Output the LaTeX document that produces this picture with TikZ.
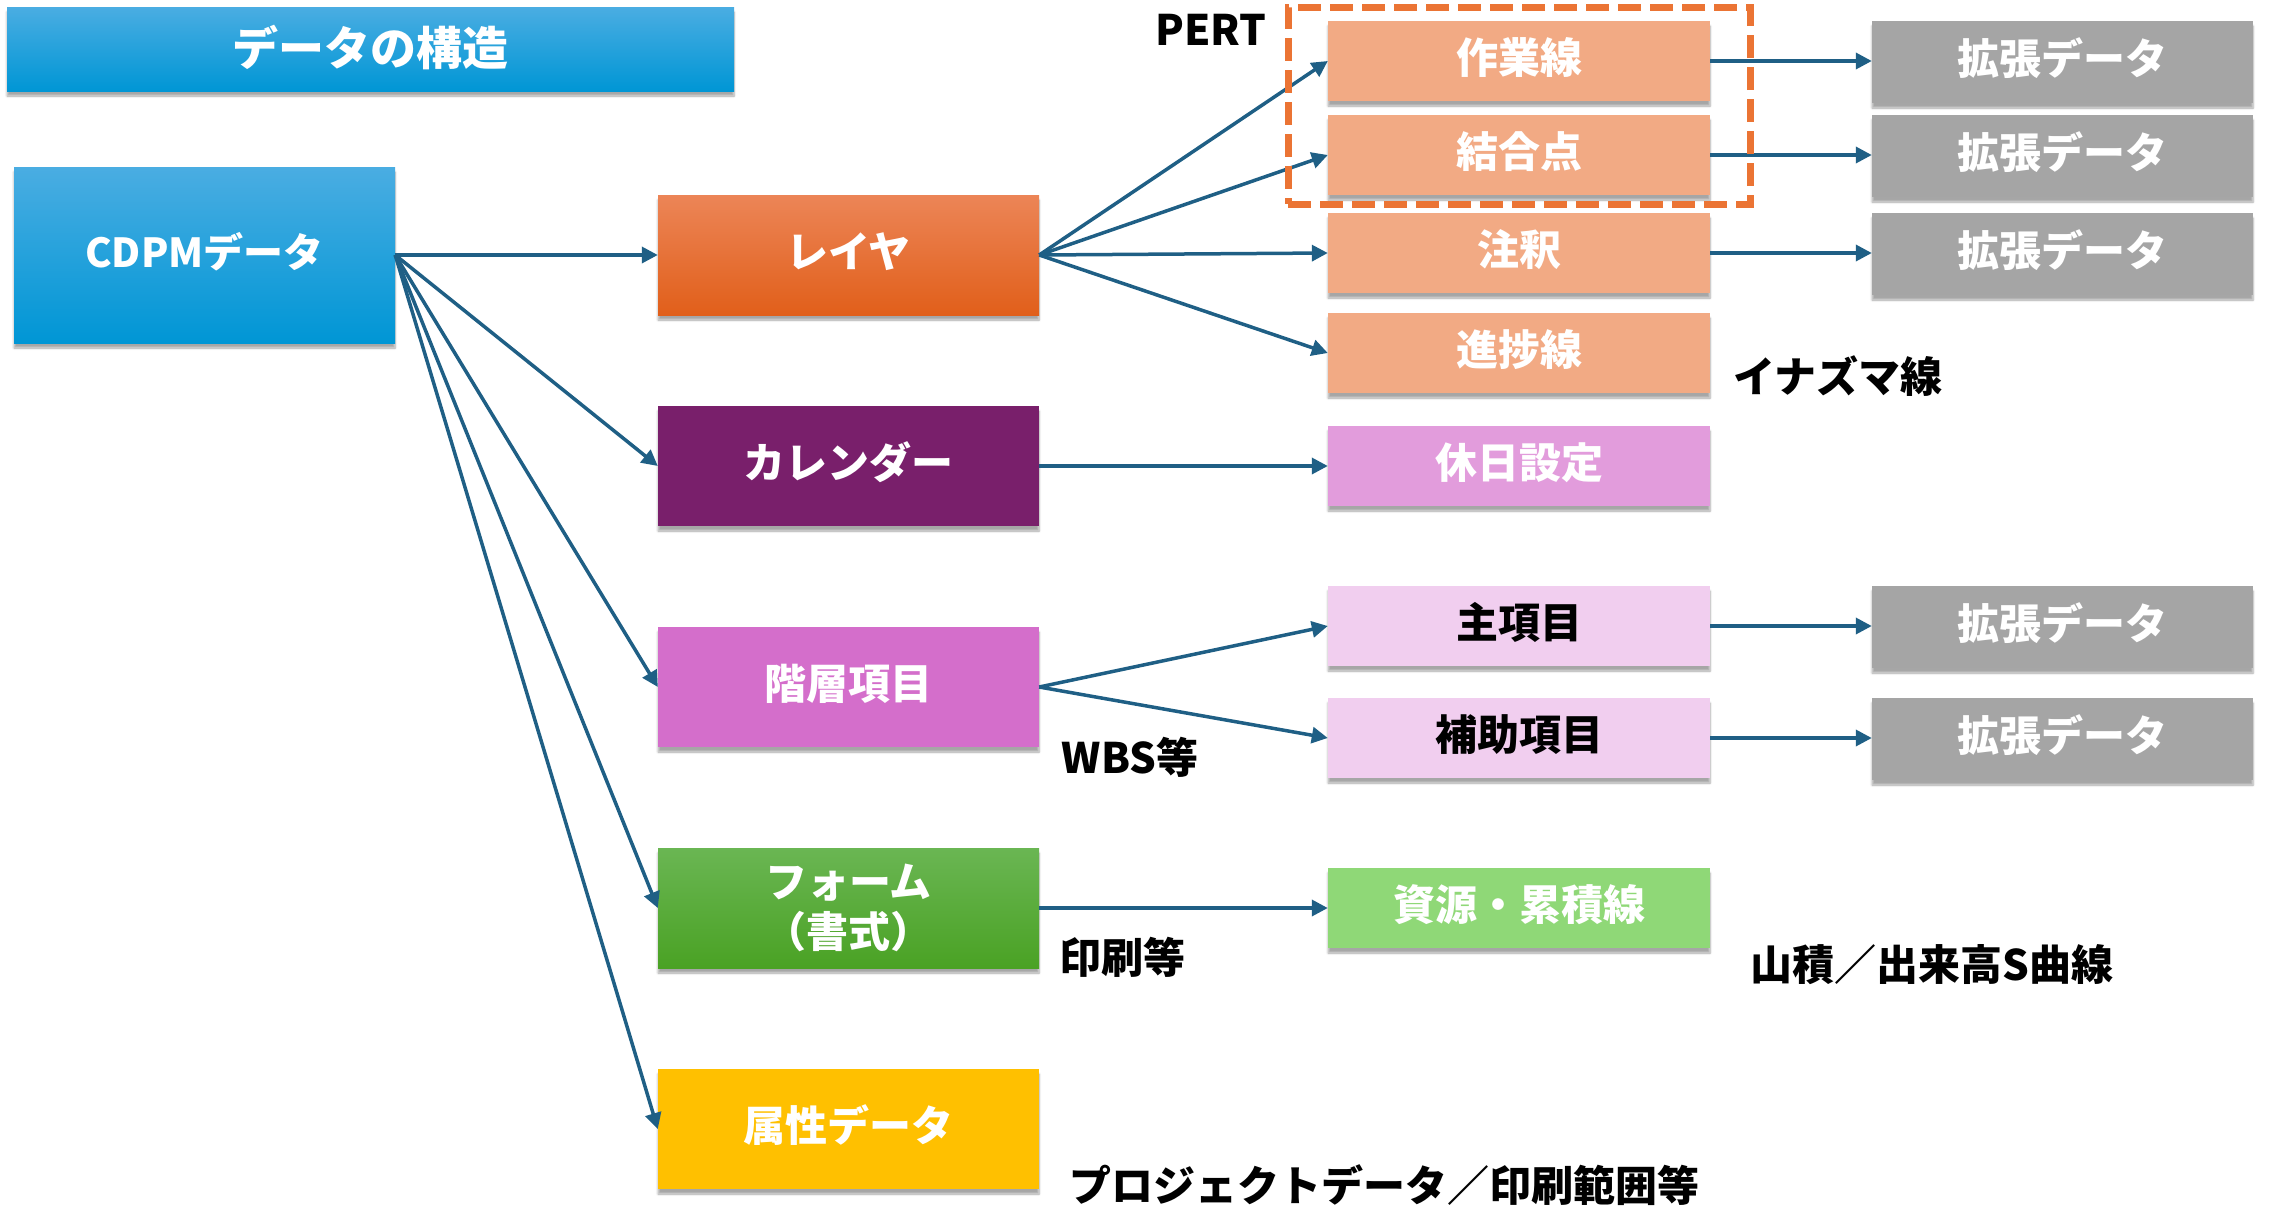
\documentclass[tikz,border=0pt]{standalone}
\usepackage{fontspec}
\setmainfont{Noto Sans CJK JP}
\usetikzlibrary{arrows.meta,shadows.blur}
\definecolor{bluetop}{HTML}{4AADE2}
\definecolor{bluebot}{HTML}{0096D5}
\definecolor{layertop}{HTML}{EC8557}
\definecolor{layerbot}{HTML}{E15F1A}
\definecolor{formtop}{HTML}{6AB653}
\definecolor{formbot}{HTML}{4AA224}
\definecolor{calc}{HTML}{791F6B}
\definecolor{hierc}{HTML}{D46ECB}
\definecolor{attrc}{HTML}{FFC000}
\definecolor{peach}{HTML}{F2AA84}
\definecolor{holic}{HTML}{E29CDC}
\definecolor{lpink}{HTML}{F1CEEF}
\definecolor{lgreen}{HTML}{8FD877}
\definecolor{greyc}{HTML}{A5A5A5}
\definecolor{dashc}{HTML}{EB7434}
\definecolor{arrowc}{HTML}{1F5F85}
\newcommand\jpf{\bfseries\fontsize{42}{50}\selectfont}
\newcommand\jpft{\bfseries\fontsize{46}{55}\selectfont}
\tikzset{
  bx/.style={inner sep=0pt, text=white, font=\jpf, align=center,
    blur shadow={shadow xshift=0pt, shadow yshift=-5pt, shadow blur steps=6, shadow opacity=35}},
  oneline/.style={text height=36pt, text depth=12pt},
  bigbox/.style={bx, minimum width=381pt, minimum height=120pt},
  midbox/.style={bx, oneline, minimum width=382pt, minimum height=80pt},
  extbox/.style={bx, oneline, minimum width=381pt, minimum height=82pt, fill=greyc},
  lbl/.style={inner sep=0pt, font=\jpf, text=black},
  arr/.style={draw=arrowc, line width=3.5pt, -{Triangle[length=16pt,width=16pt]}},
}
\begin{document}
\begin{tikzpicture}[x=1pt,y=-1pt]
\useasboundingbox (0,0) rectangle (2272,1208);
% header
\node[bx, font=\jpft, text height=40pt, text depth=7pt, minimum width=727pt, minimum height=84pt, top color=bluetop, bottom color=bluebot] (title) at (370.5,49) {データの構造};
% root
\node[bx, oneline, font=\bfseries\fontsize{40}{48}\selectfont, minimum width=381pt, minimum height=176pt, top color=bluetop, bottom color=bluebot] (cdpm) at (204.5,255) {CDPMデータ};
% second column
\node[bigbox, oneline, top color=layertop, bottom color=layerbot] (layer) at (848.5,255) {レイヤ};
\node[bigbox, oneline, fill=calc] (cal) at (848.5,466) {カレンダー};
\node[bigbox, oneline, fill=hierc] (hier) at (848.5,687) {階層項目};
\node[bigbox, top color=formtop, bottom color=formbot] (form) at (848.5,908) {フォーム\\（書式）};
\node[bigbox, oneline, fill=attrc] (attr) at (848.5,1129) {属性データ};
% third column
\node[midbox, fill=peach] (work) at (1519,61) {作業線};
\node[midbox, fill=peach] (join) at (1519,155) {結合点};
\node[midbox, fill=peach] (note) at (1519,253) {注釈};
\node[midbox, fill=peach] (prog) at (1519,353) {進捗線};
\node[midbox, fill=holic] (holi) at (1519,466) {休日設定};
\node[midbox, fill=lpink, text=black] (main) at (1519,626) {主項目};
\node[midbox, fill=lpink, text=black] (sub) at (1519,738) {補助項目};
\node[midbox, fill=lgreen] (res) at (1519,908) {資源・累積線};
% fourth column
\node[extbox] (ext1) at (2062.5,62) {拡張データ};
\node[extbox] (ext2) at (2062.5,156) {拡張データ};
\node[extbox] (ext3) at (2062.5,254) {拡張データ};
\node[extbox] (ext4) at (2062.5,627) {拡張データ};
\node[extbox] (ext5) at (2062.5,739) {拡張データ};
% free labels
\node[lbl] (pertl) at (1211,30) {PERT};
\node[lbl] (inaz) at (1838,376) {イナズマ線};
\node[lbl] (wbs) at (1130,757) {WBS等};
\node[lbl] (print) at (1122,957) {印刷等};
\node[lbl] (yama) at (1932,965) {山積／出来高S曲線};
\node[lbl] (proj) at (1384,1185) {プロジェクトデータ／印刷範囲等};
% connectors
\draw[arr] (cdpm.east) -- (layer.west);
\draw[arr] (cdpm.east) -- (cal.west);
\draw[arr] (cdpm.east) -- (hier.west);
\draw[arr] (cdpm.east) -- (form.west);
\draw[arr] (cdpm.east) -- (attr.west);
\draw[arr] (layer.east) -- (work.west);
\draw[arr] (layer.east) -- (join.west);
\draw[arr] (layer.east) -- (note.west);
\draw[arr] (layer.east) -- (prog.west);
\draw[arr] (cal.east) -- (holi.west);
\draw[arr] (hier.east) -- (main.west);
\draw[arr] (hier.east) -- (sub.west);
\draw[arr] (form.east) -- (res.west);
\draw[arr] (work.east) -- (ext1.west |- work.east);
\draw[arr] (join.east) -- (ext2.west |- join.east);
\draw[arr] (note.east) -- (ext3.west |- note.east);
\draw[arr] (main.east) -- (ext4.west |- main.east);
\draw[arr] (sub.east) -- (ext5.west |- sub.east);
% PERT group
\node[draw=dashc, line width=7pt, dash pattern=on 23pt off 9pt, minimum width=462pt, minimum height=197pt, inner sep=0pt] (pertbox) at (1519,105.5) {};
\end{tikzpicture}
\end{document}
